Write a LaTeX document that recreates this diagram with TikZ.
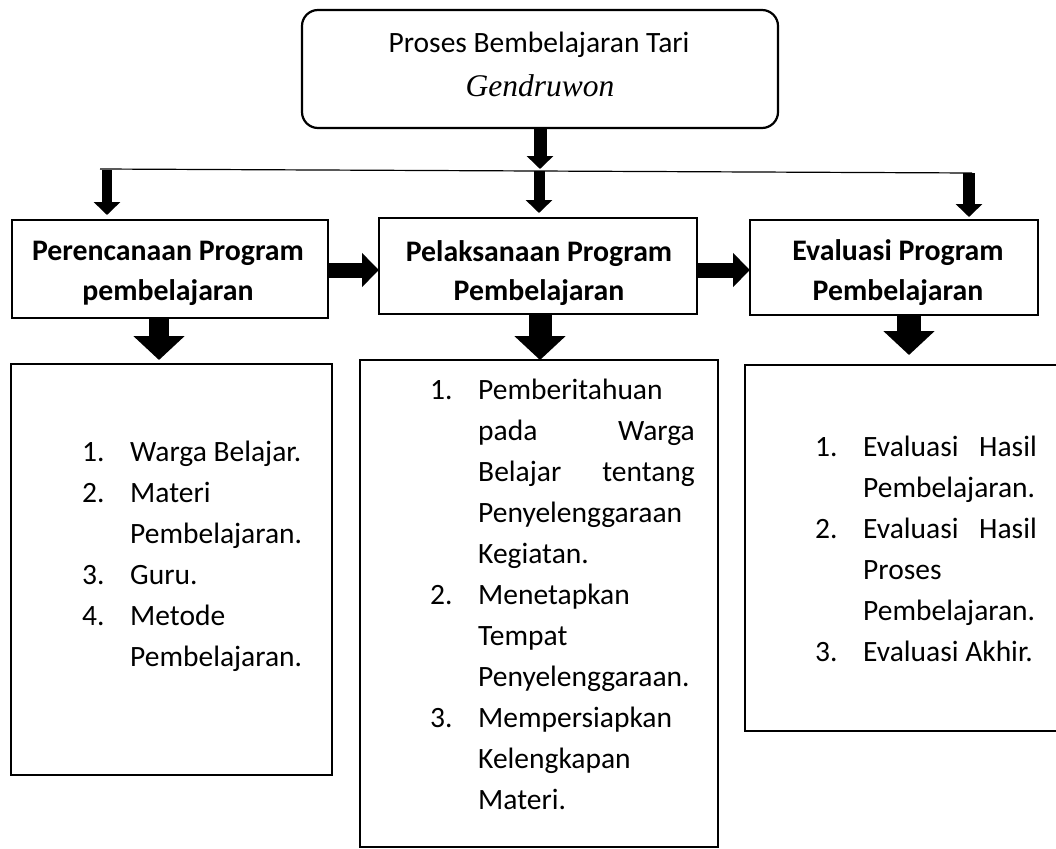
\documentclass[tikz,border=0pt]{standalone}
\usepackage{fontspec}
\setmainfont{Carlito}
\newfontfamily\serifit{Liberation Serif}
\usetikzlibrary{arrows.meta}
\begin{document}
\begin{tikzpicture}[x=1pt,y=-1pt,
  txt/.style={anchor=base west,inner sep=0pt,font=\fontsize{29.5}{41}\selectfont},
  txtr/.style={txt,anchor=base east},
  head/.style={anchor=base,inner sep=0pt,font=\fontsize{29.8}{40}\selectfont\bfseries},
  boxline/.style={draw=black,line width=1.6pt,anchor=north west,inner sep=0pt,outer sep=0pt},
  smallarrow/.style={line width=11pt,-{Triangle[width=26pt,length=13pt]}},
  bigarrow/.style={line width=21pt,-{Triangle[width=50pt,length=24pt]}},
  sidearrow/.style={line width=15pt,-{Triangle[width=33pt,length=17pt]}},
]
\useasboundingbox (0,0) rectangle (1056,848);

% top rounded box
\node[draw=black,line width=2.2pt,rounded corners=16pt,anchor=north west,inner sep=0pt,outer sep=0pt,
      minimum width=476pt,minimum height=118pt] (top) at (302,10) {};
\node[txt,anchor=base] (topt1) at (539,53) {Proses Bembelajaran Tari};
\node[anchor=base,inner sep=0pt,font=\fontsize{31.5}{40}\selectfont\serifit\itshape] (topt2) at (540,97) {Gendruwon};

% horizontal line
\coordinate (hl) at (100,169);
\coordinate (hr) at (972,173);
\draw[line width=1.2pt] (hl) -- (hr);
\coordinate (m) at (540,169);
\draw[smallarrow,line width=13pt,-{Triangle[width=26pt,length=13pt]}] (top.south) -- (m);

% heading boxes
\node[boxline,minimum width=316pt,minimum height=98pt] (b1) at (12,220) {};
\node[boxline,minimum width=318pt,minimum height=96pt] (b2) at (379,218) {};
\node[boxline,minimum width=288pt,minimum height=95pt] (b3) at (750,220) {};

\node[head] (b1a) at (168,260) {Perencanaan Program};
\node[head] (b1b) at (168,300) {pembelajaran};
\node[head] (b2a) at (539,261) {Pelaksanaan Program};
\node[head] (b2b) at (539,300) {Pembelajaran};
\node[head] (b3a) at (898,260) {Evaluasi Program};
\node[head] (b3b) at (898,300) {Pembelajaran};

% small arrows from the line
\coordinate (s1) at (107,170);
\coordinate (s2) at (539,171);
\coordinate (s3) at (969,173);
\draw[smallarrow,line width=10pt,shorten >=5pt] (s1) -- (s1 |- b1.north);
\draw[smallarrow,line width=11pt,shorten >=5pt] (s2) -- (s2 |- b2.north);
\draw[smallarrow,line width=12pt,shorten >=3pt] (s3) -- (s3 |- b3.north);

% side arrows
\coordinate (hy) at (0,270);
\draw[sidearrow] (b1.east |- hy) -- (b2.west |- hy);
\draw[sidearrow] (b2.east |- hy) -- (b3.west |- hy);

% list boxes
\node[boxline,minimum width=321pt,minimum height=411pt] (b4) at (11,364) {};
\node[boxline,minimum width=358pt,minimum height=487pt] (b5) at (360,360) {};
\node[boxline,minimum width=330pt,minimum height=366pt] (b6) at (745,365) {};

% big arrows
\coordinate (c1) at (159,0);
\coordinate (c2) at (540,0);
\coordinate (c3) at (909,0);
\draw[bigarrow,line width=20pt,shorten >=4pt] (b1.south -| c1) -- (b4.north -| c1);
\draw[bigarrow,line width=23pt] (b2.south -| c2) -- (b5.north -| c2);
\draw[bigarrow,line width=24pt,shorten >=10pt] (b3.south -| c3) -- (b6.north -| c3);

% list 1
\node[txt] (n41) at (82,461) {1.};
\node[txt] (t41) at (130,461) {Warga Belajar.};
\node[txt] (n42) at (82,502) {2.};
\node[txt] (t42) at (130,502) {Materi};
\node[txt] (t43) at (130,543) {Pembelajaran.};
\node[txt] (n44) at (82,584) {3.};
\node[txt] (t44) at (130,584) {Guru.};
\node[txt] (n45) at (82,625) {4.};
\node[txt] (t45) at (130,625) {Metode};
\node[txt] (t46) at (130,666) {Pembelajaran.};

% list 2
\node[txt] (n51) at (430,399) {1.};
\node[txt] (t51) at (478,399) {Pemberitahuan};
\node[txt] (t52) at (478,440) {pada};
\node[txtr] (t52r) at (695,440) {Warga};
\node[txt] (t53) at (478,481) {Belajar};
\node[txtr] (t53r) at (695,481) {tentang};
\node[txt] (t54) at (478,522) {Penyelenggaraan};
\node[txt] (t55) at (478,563) {Kegiatan.};
\node[txt] (n56) at (430,604) {2.};
\node[txt] (t56) at (478,604) {Menetapkan};
\node[txt] (t57) at (478,645) {Tempat};
\node[txt] (t58) at (478,686) {Penyelenggaraan.};
\node[txt] (n59) at (430,727) {3.};
\node[txt] (t59) at (478,727) {Mempersiapkan};
\node[txt] (t510) at (478,768) {Kelengkapan};
\node[txt] (t511) at (478,809) {Materi.};

% list 3
\node[txt] (n61) at (815,456) {1.};
\node[txt] (t61) at (863,456) {Evaluasi};
\node[txtr] (t61r) at (1037,456) {Hasil};
\node[txt] (t62) at (863,497) {Pembelajaran.};
\node[txt] (n63) at (815,538) {2.};
\node[txt] (t63) at (863,538) {Evaluasi};
\node[txtr] (t63r) at (1037,538) {Hasil};
\node[txt] (t64) at (863,579) {Proses};
\node[txt] (t65) at (863,620) {Pembelajaran.};
\node[txt] (n66) at (815,661) {3.};
\node[txt] (t66) at (863,661) {Evaluasi Akhir.};
\end{tikzpicture}
\end{document}
